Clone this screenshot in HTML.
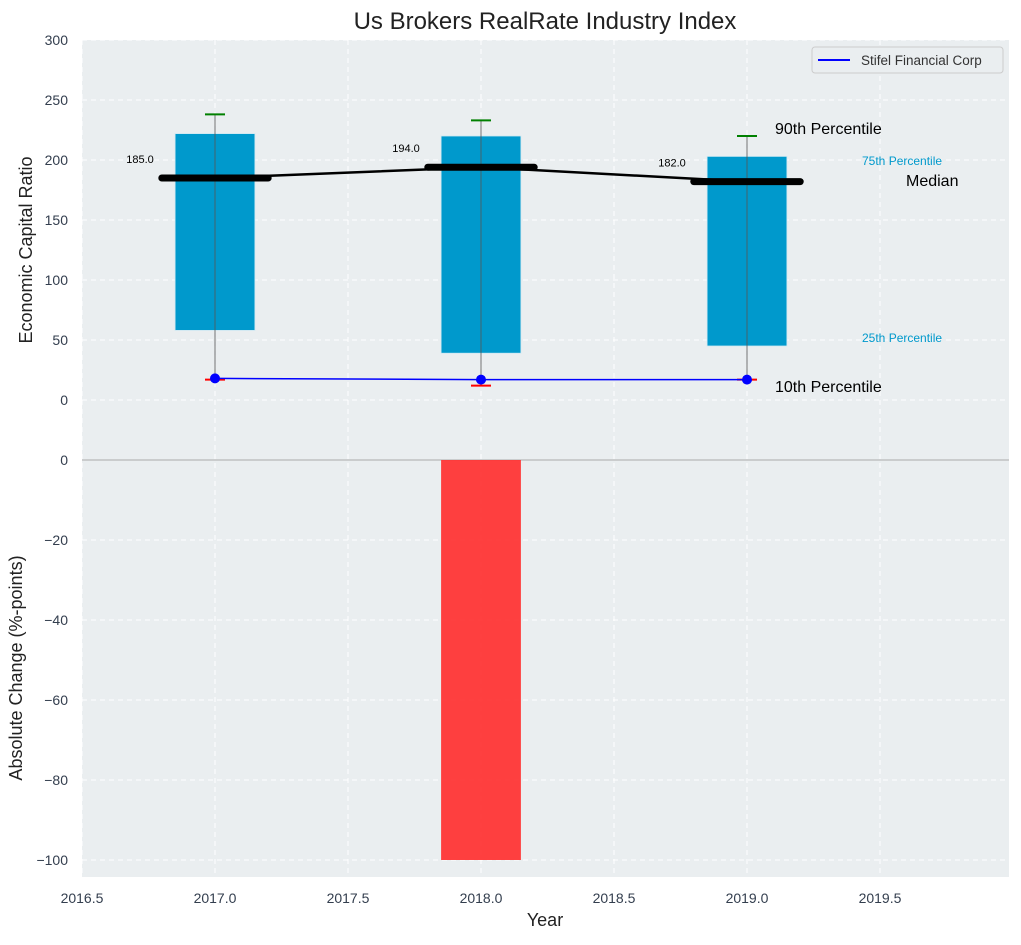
<!DOCTYPE html>
<html><head><meta charset="utf-8"><style>
body{margin:0;background:#fff;font-family:"Liberation Sans",sans-serif}
</style></head><body>
<svg id="c" width="1021" height="940" xmlns="http://www.w3.org/2000/svg" font-family="Liberation Sans, sans-serif"></svg>
<script>
const years=[2017,2018,2019];
const p10=[17,12,17];
const p25=[58,39,45];
const p50=[185,194,182];
const p75=[222,220,203];
const p90=[238,233,220];
const company=[18,17,17];
const change=[0,-100,0];
const xTicks=[2016.5,2017,2017.5,2018,2018.5,2019,2019.5];
const topTicks=[0,50,100,150,200,250,300];
const botTicks=[0,-20,-40,-60,-80,-100];

const svg=document.getElementById('c');
const NS='http://www.w3.org/2000/svg';
const L=82,R=1009;
const xs=v=>L+(v-2016.5)*266;
const yT=v=>400-v*1.2;
const yB=v=>460-v*4;
function el(t,a,name,txt){const e=document.createElementNS(NS,t);for(const k in a)e.setAttribute(k,a[k]);


if(txt!==undefined)e.textContent=txt;svg.appendChild(e);return e;}

el('rect',{x:L,y:40,width:R-L,height:420,fill:'#eaeef0'},'top-plot-bg');
el('rect',{x:L,y:460,width:R-L,height:417,fill:'#eaeef0'},'bottom-plot-bg');
xTicks.forEach(t=>{el('line',{x1:xs(t),x2:xs(t),y1:40,y2:877,stroke:'#fff','stroke-dasharray':'5,4','stroke-width':1},'x-grid');});
topTicks.forEach(t=>{el('line',{x1:L,x2:R,y1:yT(t),y2:yT(t),stroke:'#fff','stroke-dasharray':'5,4'},'y-grid-top');
 el('text',{x:68,y:yT(t)+5,'text-anchor':'end','font-size':14,fill:'#333e4e'},'y-tick-top',t);});
botTicks.forEach(t=>{el('line',{x1:L,x2:R,y1:yB(t),y2:yB(t),stroke:'#fff','stroke-dasharray':'5,4'},'y-grid-bottom');
 el('text',{x:68,y:yB(t)+5,'text-anchor':'end','font-size':14,fill:'#333e4e'},'y-tick-bottom',t===0?'0':'\u2212'+Math.abs(t));});
xTicks.forEach(t=>{el('text',{x:xs(t),y:903,'text-anchor':'middle','font-size':14,fill:'#333e4e'},'x-tick',t.toFixed(1));});
el('line',{x1:L,x2:R,y1:460,y2:460,stroke:'#aaa','stroke-width':1},'zero-line');

years.forEach((y,i)=>{
 el('rect',{x:xs(y-0.15),y:yT(p75[i]),width:0.3*266,height:yT(p25[i])-yT(p75[i]),fill:'#0099cc',stroke:'#cde8f2','stroke-width':0.8},'iqr-bar');
 el('line',{x1:xs(y),x2:xs(y),y1:yT(p90[i]),y2:yT(p10[i]),stroke:'#555','stroke-width':1,opacity:0.8},'whisker');
 el('line',{x1:xs(y)-10,x2:xs(y)+10,y1:yT(p90[i]),y2:yT(p90[i]),stroke:'green','stroke-width':2},'p90-cap');
 el('line',{x1:xs(y)-10,x2:xs(y)+10,y1:yT(p10[i]),y2:yT(p10[i]),stroke:'red','stroke-width':2},'p10-cap');
 if(change[i]!==0)el('rect',{x:xs(y-0.15),y:yB(0),width:0.3*266,height:yB(change[i])-yB(0),fill:'#ff3030',opacity:0.92},'change-bar');
});
el('polyline',{points:years.map((y,i)=>xs(y)+','+yT(p50[i])).join(' ')+' '+xs(2019.2)+','+yT(p50[2]),fill:'none',stroke:'#000','stroke-width':2.5},'median-line');
years.forEach((y,i)=>{
 el('line',{x1:xs(y-0.2),x2:xs(y+0.2),y1:yT(p50[i]),y2:yT(p50[i]),stroke:'#000','stroke-width':7,'stroke-linecap':'round'},'median-marker');
 el('text',{x:xs(y-0.2)-8,y:yT(p50[i])-15,'text-anchor':'end','font-size':11,fill:'#000'},'median-label',p50[i].toFixed(1));
});
el('polyline',{points:years.map((y,i)=>xs(y)+','+yT(company[i])).join(' '),fill:'none',stroke:'blue','stroke-width':1.5},'company-line');
years.forEach((y,i)=>el('circle',{cx:xs(y),cy:yT(company[i]),r:5,fill:'blue'},'company-point'));
el('text',{x:775,y:134,'font-size':16,fill:'#000'},'p90-annotation','90th Percentile');
el('text',{x:862,y:165,'font-size':12,fill:'#0099cc'},'p75-annotation','75th Percentile');
el('text',{x:906,y:186,'font-size':16,fill:'#000'},'median-annotation','Median');
el('text',{x:862,y:342,'font-size':12,fill:'#0099cc'},'p25-annotation','25th Percentile');
el('text',{x:775,y:392,'font-size':16,fill:'#000'},'p10-annotation','10th Percentile');
el('rect',{x:812,y:47,width:191,height:26,rx:3,fill:'#eaeef0',stroke:'#ccc'},'legend-box');
el('line',{x1:818,x2:850,y1:60,y2:60,stroke:'blue','stroke-width':2},'legend-line');
el('text',{x:861,y:65,'font-size':13.5,fill:'#333'},'legend-label','Stifel Financial Corp');
el('text',{x:545,y:29,'text-anchor':'middle','font-size':24,fill:'#222'},'chart-title','Us Brokers RealRate Industry Index');
el('text',{x:545,y:926,'text-anchor':'middle','font-size':18,fill:'#222'},'x-axis-title','Year');
el('text',{x:0,y:0,'text-anchor':'middle','font-size':18,fill:'#222',transform:'translate(32,250) rotate(-90)'},'y-axis-title-top','Economic Capital Ratio');
el('text',{x:0,y:0,'text-anchor':'middle','font-size':18,fill:'#222',transform:'translate(22,668) rotate(-90)'},'y-axis-title-bottom','Absolute Change (%-points)');
</script>
</body></html>
